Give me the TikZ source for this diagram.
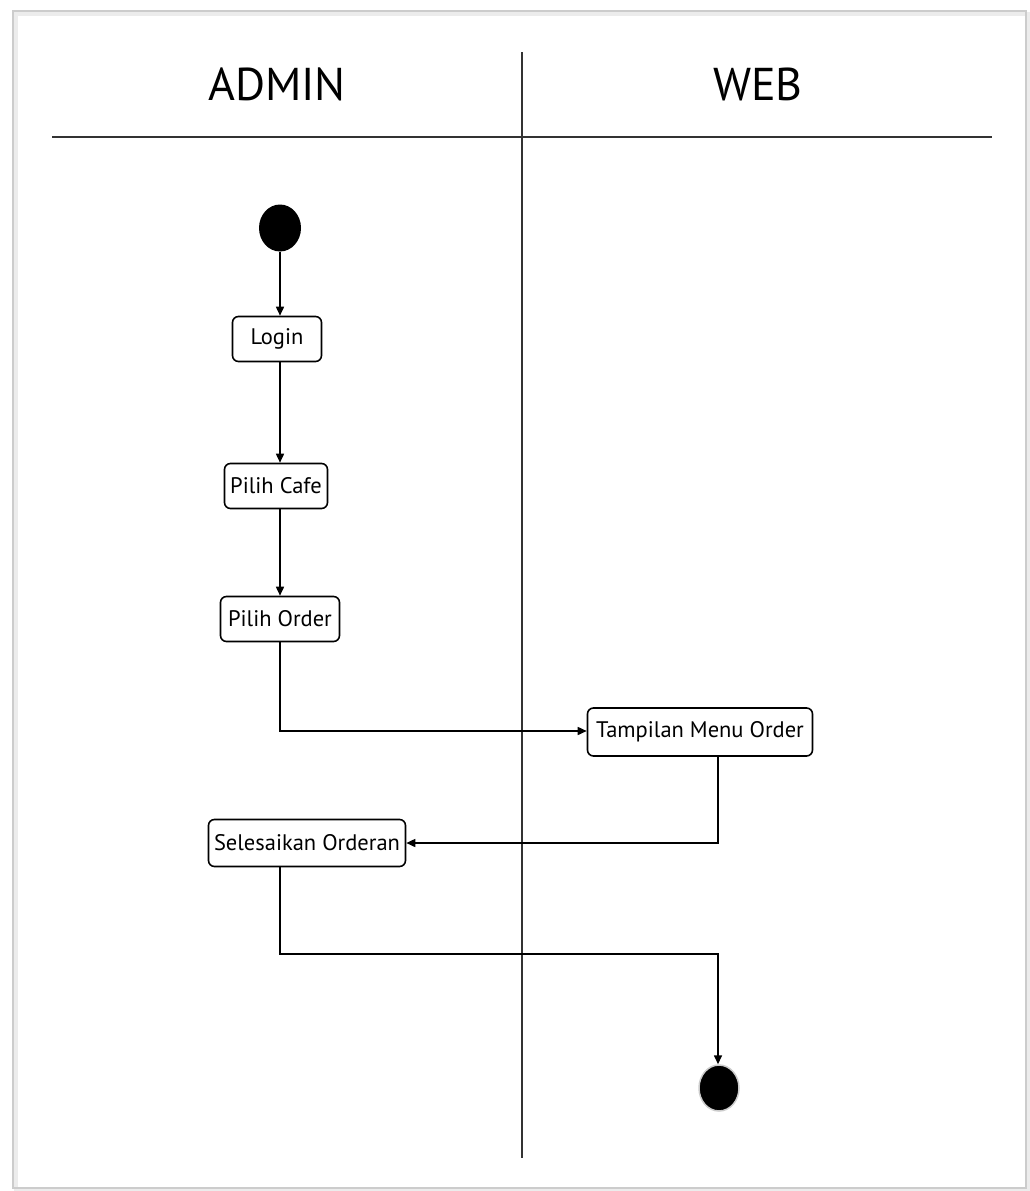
\documentclass[tikz,border=0pt]{standalone}
\usepackage{fontspec}
\setmainfont{PT Sans}
\usetikzlibrary{arrows.meta,positioning,shapes.geometric}
\begin{document}
\begin{tikzpicture}[x=1pt,y=-1pt,
  act/.style={draw=black, line width=1.6pt, rounded corners=6pt, fill=white, minimum height=45pt, inner xsep=4pt, font=\fontsize{22.5}{26}\selectfont},
  flow/.style={draw=black, line width=1.6pt, -{Triangle[length=9pt,width=8pt]}},
  lane/.style={draw=black!80, line width=1.1pt},
  head/.style={font=\fontsize{46}{52}\selectfont},
  startdot/.style={ellipse, fill=black, minimum width=42pt, minimum height=47pt, inner sep=0pt},
  enddot/.style={ellipse, fill=black, draw=gray!40, line width=1.5pt, minimum width=40pt, minimum height=46pt, inner sep=0pt}
]
\useasboundingbox (0,0) rectangle (1030,1191);
% frame with faint shadow
\draw[gray!15, line width=4pt] (16,14) rectangle (1028,1190);
\draw[gray!40, line width=1.5pt] (13,11) rectangle (1026,1188);
% swimlanes
\draw[lane] (52,137) -- (992,137);
\draw[lane] (522,52) -- (522,1158);
\node[head] (hadmin) at (277,84) {ADMIN};
\node[head] (hweb) at (758,84) {WEB};
% nodes
\node[startdot] (start) at (280,228) {};
\node[act, minimum width=89pt] (login) at (277,339) {Login};
\node[act, minimum width=103pt] (cafe) at (276,486) {Pilih Cafe};
\node[act, minimum width=119pt] (order) at (280,619) {Pilih Order};
\node[act, minimum width=225pt, minimum height=48pt] (menu) at (700,732) {Tampilan Menu Order};
\node[act, minimum width=197pt, minimum height=47pt] (selesai) at (307,843) {Selesaikan Orderan};
\node[enddot] (end) at (719,1088) {};
% connectors
\draw[flow] (start.south) -- (start.south |- login.north);
\draw[flow] (login.south -| start.south) -- (start.south |- cafe.north);
\draw[flow] (cafe.south -| start.south) -- (start.south |- order.north);
\draw[flow] (order.south -| start.south) -- (280,731) -- (menu.west |- 0,731);
\draw[flow] (menu.south -| 718,0) -- (718,843) -- (selesai.east);
\draw[flow] (selesai.south -| 280,0) -- (280,954) -- (718,954) -- (end.north -| 718,0);
\end{tikzpicture}
\end{document}
